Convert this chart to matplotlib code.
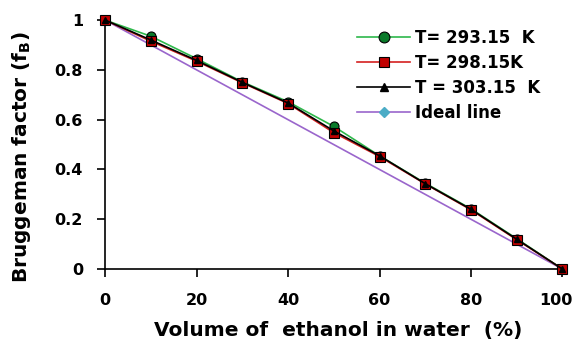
import matplotlib
matplotlib.use("Agg")
import matplotlib.pyplot as plt
import matplotlib.transforms as mtransforms
from matplotlib.ticker import FuncFormatter

# volume fraction of ethanol (%) and Bruggeman factor per temperature
vol = [0, 10, 20, 30, 40, 50, 60, 70, 80, 90, 100]
fb_293 = [1.0, 0.935, 0.845, 0.752, 0.672, 0.573, 0.455, 0.345, 0.242, 0.122, 0.0]
fb_298 = [1.0, 0.915, 0.835, 0.748, 0.665, 0.548, 0.452, 0.342, 0.238, 0.118, 0.0]
fb_303 = [1.0, 0.920, 0.838, 0.750, 0.667, 0.555, 0.455, 0.343, 0.240, 0.120, 0.0]
ideal_x = [0, 100]
ideal_y = [1.0, 0.0]

plt.rcParams['font.family'] = 'DejaVu Sans'
plt.rcParams['font.weight'] = 'bold'

fig = plt.figure(figsize=(5.78, 3.41), dpi=100)
ax = fig.add_axes([0.182, 0.211, 0.791, 0.730])

ax.plot(vol, fb_293, color='#2eb84b', lw=1.2, marker='o', ms=6.5,
        mfc='#0a7a2a', mec='black', mew=0.8, label='T= 293.15  K', clip_on=False, zorder=3)
ax.plot(vol, fb_298, color='#d42020', lw=1.2, marker='s', ms=6.5,
        mfc='#c00000', mec='black', mew=0.8, label='T= 298.15K', clip_on=False, zorder=4)
ax.plot(vol, fb_303, color='black', lw=1.2, marker='^', ms=5,
        mfc='black', mec='black', label='T = 303.15  K', clip_on=False, zorder=5)
ax.plot(ideal_x, ideal_y, color='#9a66cc', lw=1.2, marker='D', ms=4,
        mfc='#4bacc6', mec='#4bacc6', label='Ideal line', clip_on=False, zorder=2)

ax.set_xlim(0, 100)
ax.set_ylim(0, 1)
ax.set_xticks(range(0, 101, 20))
ax.set_yticks([0, 0.2, 0.4, 0.6, 0.8, 1.0])
ax.yaxis.set_major_formatter(FuncFormatter(lambda v, p: f"{v:g}"))

for s in ['top', 'right']:
    ax.spines[s].set_visible(False)
for s in ['left', 'bottom']:
    ax.spines[s].set_linewidth(1.2)
ax.tick_params(direction='out', length=6, width=1.2, labelsize=11.5)
ax.tick_params(axis='x', pad=11)
ax.tick_params(axis='y', pad=10)

# nudge the last x label inward so it stays inside the figure
last = ax.get_xticklabels()[-1]
last.set_transform(last.get_transform() +
                   mtransforms.ScaledTranslation(-7 / 100, 0, fig.dpi_scale_trans))

ax.set_xlabel('Volume of  ethanol in water  (%)', fontsize=14.5, fontweight='bold')
ax.set_ylabel(r'Bruggeman factor (f$_\mathbf{B}$)', fontsize=14.5, fontweight='bold')
ax.xaxis.set_label_coords(0.51, -0.208)
ax.yaxis.set_label_coords(-0.157, 0.45)

leg = ax.legend(loc='upper left', bbox_to_anchor=(357 / 578, 1 - 29 / 341),
                bbox_transform=fig.transFigure, frameon=False, borderpad=0,
                borderaxespad=0, fontsize=12, handlelength=3.2,
                handletextpad=0.3, labelspacing=0.42, markerscale=1.2)
for t in leg.get_texts():
    t.set_fontweight('bold')

fig.savefig('out.png', dpi=100)
